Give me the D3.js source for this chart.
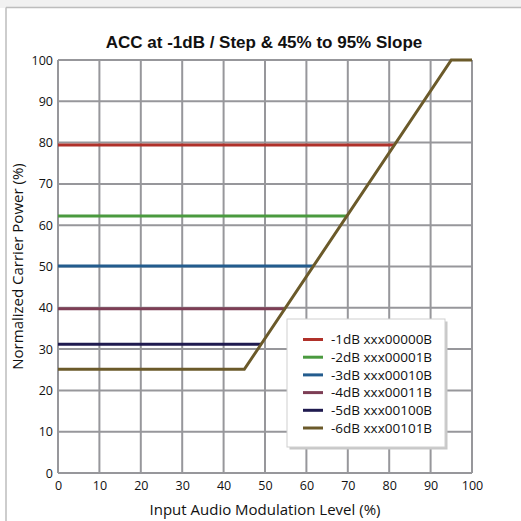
<!DOCTYPE html>
<html>
<head>
<meta charset="utf-8">
<script src="https://cdn.jsdelivr.net/npm/d3@7"></script>
<style>
  html, body { margin: 0; padding: 0; background: #fff; }
  svg { display: block; }
</style>
</head>
<body>
<svg id="chart" width="521" height="521"></svg>
<script>
// chart data
var seriesNames = ["-1dB xxx00000B", "-2dB xxx00001B", "-3dB xxx00010B",
                   "-4dB xxx00011B", "-5dB xxx00100B", "-6dB xxx00101B"];
var seriesColors = ["#b0312a", "#4a9a3f", "#235c8e", "#7d3e55", "#1f1a4f", "#6b5a2a"];
// each step line runs flat until it meets the slope
var stepLevels = [79.4, 62.2, 50.1, 39.8, 31.2];
var stepEnds = [81.3, 69.8, 61.7, 54.9, 49.1];
// the -6dB curve: flat, then 45% -> 95% slope, then flat at 100
var slopeX = [0, 45, 95, 100];
var slopeY = [25.1, 25.1, 100, 100];
var xTicks = [0, 10, 20, 30, 40, 50, 60, 70, 80, 90, 100];
var yTicks = [0, 10, 20, 30, 40, 50, 60, 70, 80, 90, 100];

var svg = d3.select("#chart");
var W = 521, H = 521;
var margin = {left: 58, right: 49, top: 60, bottom: 48};

// page frame: light strip on top, border lines on top and left
svg.append("rect").attr("x", 0).attr("y", 0).attr("width", W).attr("height", 8).attr("fill", "#f1f1f1");
svg.append("line").attr("x1", 6).attr("x2", W).attr("y1", 7.5).attr("y2", 7.5)
    .attr("stroke", "#bdbdbd").attr("stroke-width", 1.5);
svg.append("line").attr("x1", 6).attr("x2", 6).attr("y1", 7.5).attr("y2", H)
    .attr("stroke", "#bdbdbd").attr("stroke-width", 1.5);

var x = d3.scaleLinear().domain([0, 100]).range([margin.left, W - margin.right]);
var y = d3.scaleLinear().domain([0, 100]).range([H - margin.bottom, margin.top]);

// grid
var grid = svg.append("g");
grid.selectAll(".vg").data(xTicks).enter().append("line")
    .attr("x1", function (d) {return x(d);})
    .attr("x2", function (d) {return x(d);})
    .attr("y1", y(0)).attr("y2", y(100))
    .attr("stroke", "#97979b").attr("stroke-width", 2);
grid.selectAll(".hg").data(yTicks).enter().append("line")
    .attr("x1", x(0)).attr("x2", x(100))
    .attr("y1", function (d) {return y(d);})
    .attr("y2", function (d) {return y(d);})
    .attr("stroke", "#97979b").attr("stroke-width", 2);

// axes (labels only, lines come from the grid)
var xAxis = svg.append("g").attr("transform", "translate(0," + (y(0) + 6) + ")")
    .call(d3.axisBottom(x).tickValues(xTicks).tickSize(0).tickPadding(0));
var yAxis = svg.append("g").attr("transform", "translate(" + (x(0) - 5) + ",0)")
    .call(d3.axisLeft(y).tickValues(yTicks).tickSize(0).tickPadding(0));
[xAxis, yAxis].forEach(function (a) {
    a.select(".domain").remove();
    a.selectAll("text").attr("font-family", "Open Sans, sans-serif")
        .attr("font-size", 12.5).attr("fill", "#111");
});
xAxis.selectAll("text").attr("dy", "0.9em");

// data lines
var line = d3.line().x(function (d) {return x(d[0]);}).y(function (d) {return y(d[1]);});
stepLevels.forEach(function (v, i) {
    svg.append("path").datum([[0, v], [stepEnds[i], v]])
        .attr("d", line).attr("fill", "none")
        .attr("stroke", seriesColors[i]).attr("stroke-width", 3);
});
svg.append("path").datum(slopeX.map(function (d, i) {return [d, slopeY[i]];}))
    .attr("d", line).attr("fill", "none")
    .attr("stroke", seriesColors[5]).attr("stroke-width", 3)
    .attr("stroke-linejoin", "miter");

// legend
var lg = svg.append("g").attr("transform", "translate(287,319)");
lg.append("rect").attr("x", 2.5).attr("y", 2.5).attr("width", 158).attr("height", 128)
    .attr("fill", "#c8c8c8");
lg.append("rect").attr("x", 0).attr("y", 0).attr("width", 158).attr("height", 128)
    .attr("fill", "#fff").attr("stroke", "#cfcfcf").attr("stroke-width", 1);
var items = lg.selectAll(".item").data(seriesNames).enter().append("g")
    .attr("transform", function (d, i) {return "translate(0," + (20.5 + i * 17.7) + ")";});
items.append("line").attr("x1", 16).attr("x2", 36).attr("y1", 0).attr("y2", 0)
    .attr("stroke", function (d, i) {return seriesColors[i];}).attr("stroke-width", 3);
items.append("text").attr("x", 44).attr("y", 0).attr("dy", "0.35em")
    .attr("font-family", "Open Sans, sans-serif").attr("font-size", 13.5).attr("fill", "#111")
    .text(function (d) {return d;});

// titles
svg.append("text").attr("x", 264).attr("y", 48).attr("text-anchor", "middle")
    .attr("font-family", "Liberation Sans, Arial, sans-serif").attr("font-weight", "bold")
    .attr("font-size", 17).attr("fill", "#111")
    .text("ACC at -1dB / Step & 45% to 95% Slope");
svg.append("text").attr("x", (x(0) + x(100)) / 2).attr("y", 515).attr("text-anchor", "middle")
    .attr("font-family", "Open Sans, sans-serif").attr("font-size", 15).attr("fill", "#111")
    .text("Input Audio Modulation Level (%)");
svg.append("text").attr("transform", "translate(23," + ((y(0) + y(100)) / 2) + ") rotate(-90)")
    .attr("text-anchor", "middle")
    .attr("font-family", "Open Sans, sans-serif").attr("font-size", 15).attr("fill", "#111")
    .text("Normalized Carrier Power (%)");
</script>
</body>
</html>
